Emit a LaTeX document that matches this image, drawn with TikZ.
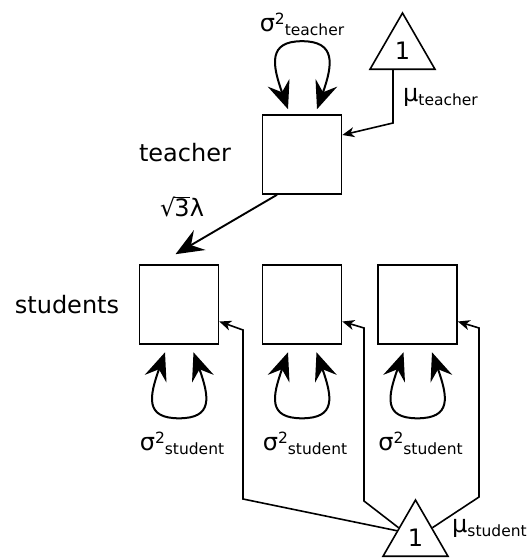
\documentclass[tikz,border=0pt]{standalone}
\usepackage{fontspec}
\setmainfont{DejaVu Sans}
\usetikzlibrary{positioning,arrows.meta,shapes.geometric}
\tikzset{>={Stealth[length=12pt,width=10pt,inset=3.5pt]}}
\tikzset{
  box/.style={draw, rectangle, line width=1.6pt, minimum size=79pt, inner sep=0pt},
  tri/.style={draw, regular polygon, regular polygon sides=3, minimum size=75pt, inner sep=0pt, line width=1.6pt, font=\fontsize{24}{28}\selectfont},
  lbl/.style={inner sep=0pt, font=\fontsize{24}{28}\selectfont},
  meanline/.style={line width=1.6pt, ->},
  bigarrow/.style={line width=1.9pt, -{Stealth[length=28pt,width=23pt,inset=10pt]}},
  varloop/.style={line width=2pt, {Stealth[length=28pt,width=23pt,inset=10pt]}-{Stealth[length=28pt,width=23pt,inset=10pt]}}
}
\newcommand{\supnum}[1]{\raisebox{7pt}{\fontsize{15.5}{16}\selectfont #1}}
\newcommand{\subtxt}[1]{\raisebox{-4pt}{\fontsize{15.5}{16}\selectfont #1}}

\begin{document}
\begin{tikzpicture}[x=1pt, y=-1pt]
      \useasboundingbox (0,0) rectangle (530,559);
      \node[box] (teacher) at (302,154.5) {};
      \node[box, below of=teacher, node distance=150pt] (s2) {};
      \node[box, left of=s2, node distance=123pt] (s1) {};
      \node[box, right of=s2, node distance=115.5pt] (s3) {};
      \node[tri] (one1) at (402.5,50.5) {1};
      \node[tri] (one2) at (415.5,537.5) {1};
      \node[lbl, left of=teacher, node distance=117pt, yshift=2pt] (tlabel) {teacher};
      \node[lbl, left of=s1, node distance=112pt] (slabel) {students};
      \node[lbl, above of=teacher, node distance=130pt] (vteacher) {σ\supnum{2}\subtxt{teacher}};
      \node[lbl, below of=s1, node distance=139pt, xshift=3pt] (vs1) {σ\supnum{2}\subtxt{student}};
      \node[lbl, below of=s2, node distance=139pt, xshift=3pt] (vs2) {σ\supnum{2}\subtxt{student}};
      \node[lbl, below of=s3, node distance=139pt, xshift=3pt] (vs3) {σ\supnum{2}\subtxt{student}};
      \node[lbl, anchor=base west] (mteacher) at (403,102) {μ\subtxt{teacher}};
      \node[lbl, anchor=base west] (mstudent) at (452,532) {μ\subtxt{student}};
      \node[lbl, anchor=base west] (lambda) at (160,216) {√\kern-1pt\rlap{\rule[0.74em]{0.64em}{0.06em}}3λ};
      % loadings
      \draw[bigarrow] ([xshift=-25pt]teacher.south) -- ([xshift=-3.5pt,yshift=10pt]s1.north);
      % variances
      \draw[varloop] ([xshift=-14pt,yshift=5pt]teacher.north) .. controls +(-16,-45) and +(-34,0) .. ([yshift=73pt]teacher.north) .. controls +(34,0) and +(16,-45) .. ([xshift=15pt,yshift=5pt]teacher.north);
      \draw[varloop] ([xshift=-14pt,yshift=-7.5pt]s1.south) .. controls +(-16,45) and +(-34,0) .. ([yshift=-73.5pt]s1.south) .. controls +(34,0) and +(16,45) .. ([xshift=14.5pt,yshift=-7.5pt]s1.south);
      \draw[varloop] ([xshift=-14pt,yshift=-7.5pt]s2.south) .. controls +(-16,45) and +(-34,0) .. ([yshift=-73.5pt]s2.south) .. controls +(34,0) and +(16,45) .. ([xshift=14.5pt,yshift=-7.5pt]s2.south);
      \draw[varloop] ([xshift=-14pt,yshift=-7.5pt]s3.south) .. controls +(-16,45) and +(-34,0) .. ([yshift=-73.5pt]s3.south) .. controls +(34,0) and +(16,45) .. ([xshift=14.5pt,yshift=-7.5pt]s3.south);
      % means
      \coordinate (aux1) at (393,123);
      \draw[meanline] ([xshift=-9.5pt]one1.south) -- (aux1) -- ([yshift=19.5pt]teacher.east);
      \coordinate (aux2) at (243,499);
      \coordinate (aux3) at (243,330);
      \draw[meanline] (one2.160) -- (aux2) -- (aux3) -- ([yshift=-17pt]s1.east);
      \coordinate (aux4) at (364,501);
      \coordinate (aux5) at (364,328);
      \draw[meanline] (one2.150) -- (aux4) -- (aux5) -- ([yshift=-17pt]s2.east);
      \coordinate (aux6) at (479,497);
      \coordinate (aux7) at (479,328);
      \draw[meanline] (one2.30) -- (aux6) -- (aux7) -- ([yshift=-17pt]s3.east);
    \end{tikzpicture}
\end{document}
